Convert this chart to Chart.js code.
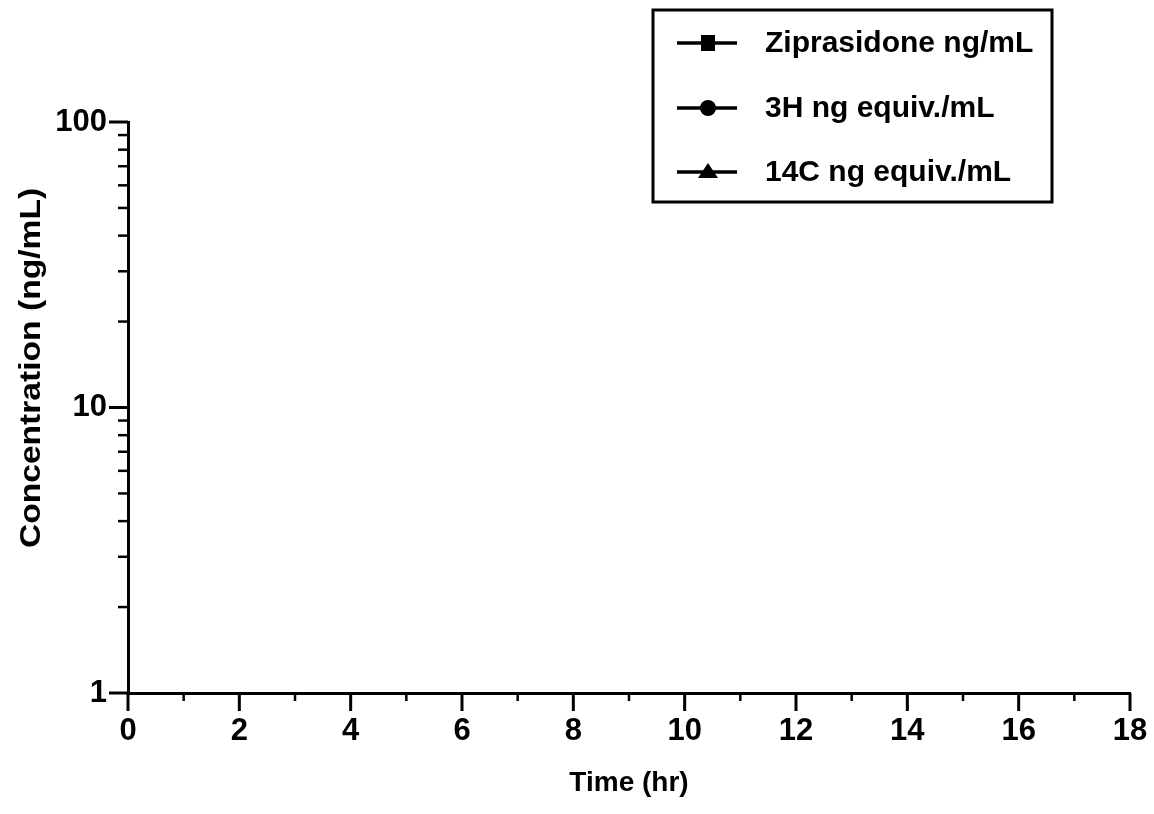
<!DOCTYPE html>
<html>
<head>
<meta charset="utf-8">
<title>Concentration vs Time</title>
<script src="https://cdn.jsdelivr.net/npm/chart.js@4.4.1/dist/chart.umd.min.js"></script>
<style>
  html, body { margin: 0; padding: 0; background: #fff; }
  #wrap { width: 1154px; height: 814px; }
</style>
</head>
<body>
<div id="wrap"><canvas id="conc-chart" width="1154" height="814"></canvas></div>
<script>
// series labels (legend) - the plot area itself shows no points
const seriesLabels = ['Ziprasidone ng/mL', '3H ng equiv./mL', '14C ng equiv./mL'];
const seriesMarkers = ['rect', 'circle', 'triangle'];

// values: none are drawn in the reference
const ziprasidone = [];
const tritium = [];
const carbon14 = [];

// axis ticks
const xTicks = [0, 1, 2, 3, 4, 5, 6, 7, 8, 9, 10, 11, 12, 13, 14, 15, 16, 17, 18];
const xLabels = [0, 2, 4, 6, 8, 10, 12, 14, 16, 18];
const yTicks = [1, 2, 3, 4, 5, 6, 7, 8, 9, 10, 20, 30, 40, 50, 60, 70, 80, 90, 100];
const yLabels = [1, 10, 100];

const FONT = '"Liberation Sans", Arial, Helvetica, sans-serif';

// tick marks: long for labelled ticks, short for the others
const tickMarks = {
    id: 'tickMarks',
    afterDraw(chart) {
        const ctx = chart.ctx;
        const xs = chart.scales.x, ys = chart.scales.y;
        const area = chart.chartArea;
        ctx.save();
        ctx.strokeStyle = '#000';
        ctx.lineCap = 'butt';
        xTicks.forEach(v => {
            const px = xs.getPixelForValue(v);
            const major = xLabels.includes(v);
            ctx.lineWidth = major ? 3 : 2.5;
            ctx.beginPath();
            ctx.moveTo(px, area.bottom);
            ctx.lineTo(px, area.bottom + (major ? 18 : 8));
            ctx.stroke();
        });
        yTicks.forEach(v => {
            const py = ys.getPixelForValue(v);
            const major = yLabels.includes(v);
            ctx.lineWidth = major ? 3 : 2.5;
            ctx.beginPath();
            ctx.moveTo(area.left, py);
            ctx.lineTo(area.left - (major ? 19 : 10), py);
            ctx.stroke();
        });

        // y axis title (sits a bit above the middle of the axis, scan is stretched)
        ctx.translate(32, 368);
        ctx.rotate(-Math.PI / 2);
        ctx.scale(1.12, 1);
        ctx.fillStyle = '#000';
        ctx.font = 'bold 30px ' + FONT;
        ctx.textAlign = 'center';
        ctx.textBaseline = 'middle';
        ctx.fillText('Concentration (ng/mL)', 0, 0);
        ctx.restore();
    }
};

// boxed legend in the top right corner
const boxLegend = {
    id: 'boxLegend',
    afterDraw(chart) {
        const ctx = chart.ctx;
        const box = { x: 653, y: 10, w: 399, h: 192 };
        const rows = [43, 108, 172];
        ctx.save();
        ctx.strokeStyle = '#000';
        ctx.fillStyle = '#000';
        ctx.lineWidth = 3;
        ctx.strokeRect(box.x, box.y, box.w, box.h);
        chart.data.datasets.forEach((ds, i) => {
            const y = rows[i];
            ctx.lineWidth = 3.5;
            ctx.beginPath();
            ctx.moveTo(677, y);
            ctx.lineTo(737, y);
            ctx.stroke();
            const cx = 708;
            ctx.beginPath();
            if (ds.pointStyle === 'rect') {
                ctx.rect(cx - 7, y - 8, 14, 16);
            } else if (ds.pointStyle === 'circle') {
                ctx.arc(cx, y, 8, 0, Math.PI * 2);
            } else {
                ctx.moveTo(cx, y - 9);
                ctx.lineTo(cx + 10, y + 6);
                ctx.lineTo(cx - 10, y + 6);
                ctx.closePath();
            }
            ctx.fill();
            ctx.font = 'bold 30px ' + FONT;
            ctx.textAlign = 'left';
            ctx.textBaseline = 'middle';
            ctx.fillText(ds.label, 765, y + 1);
        });
        ctx.restore();
    }
};

const seriesData = [ziprasidone, tritium, carbon14];

new Chart(document.getElementById('conc-chart'), {
    type: 'line',
    data: {
        datasets: seriesLabels.map((label, i) => ({
            label: label,
            data: seriesData[i],
            pointStyle: seriesMarkers[i],
            borderColor: '#000',
            backgroundColor: '#000',
            borderWidth: 2,
            pointRadius: 6
        }))
    },
    options: {
        responsive: false,
        animation: false,
        layout: { padding: { top: 122, right: 24, left: 0, bottom: 0 } },
        plugins: {
            legend: { display: false },
            tooltip: { enabled: false }
        },
        scales: {
            x: {
                type: 'linear',
                min: 0,
                max: 18,
                afterBuildTicks: s => { s.ticks = xTicks.map(v => ({ value: v })); },
                afterFit: s => { s.height = 121; s.paddingLeft = 0; s.paddingRight = 0; },
                grid: { display: true, drawOnChartArea: false, drawTicks: false },
                border: { display: true, color: '#000', width: 3 },
                ticks: {
                    autoSkip: false,
                    maxRotation: 0,
                    padding: 20,
                    color: '#000',
                    font: { family: FONT, size: 31, weight: 'bold' },
                    callback: v => xLabels.includes(v) ? String(v) : ''
                },
                title: {
                    display: true,
                    text: 'Time (hr)',
                    color: '#000',
                    font: { family: FONT, size: 28, weight: 'bold' },
                    padding: { top: 0, bottom: 14 }
                }
            },
            y: {
                type: 'logarithmic',
                min: 1,
                max: 100,
                afterBuildTicks: s => { s.ticks = yTicks.map(v => ({ value: v })); },
                afterFit: s => { s.width = 128; s.paddingTop = 0; s.paddingBottom = 0; },
                grid: { display: true, drawOnChartArea: false, drawTicks: false },
                border: { display: true, color: '#000', width: 3 },
                ticks: {
                    autoSkip: false,
                    padding: 21,
                    color: '#000',
                    font: { family: FONT, size: 31, weight: 'bold' },
                    callback: v => yLabels.includes(v) ? String(v) : ''
                }
            }
        }
    },
    plugins: [tickMarks, boxLegend]
});
</script>
</body>
</html>
